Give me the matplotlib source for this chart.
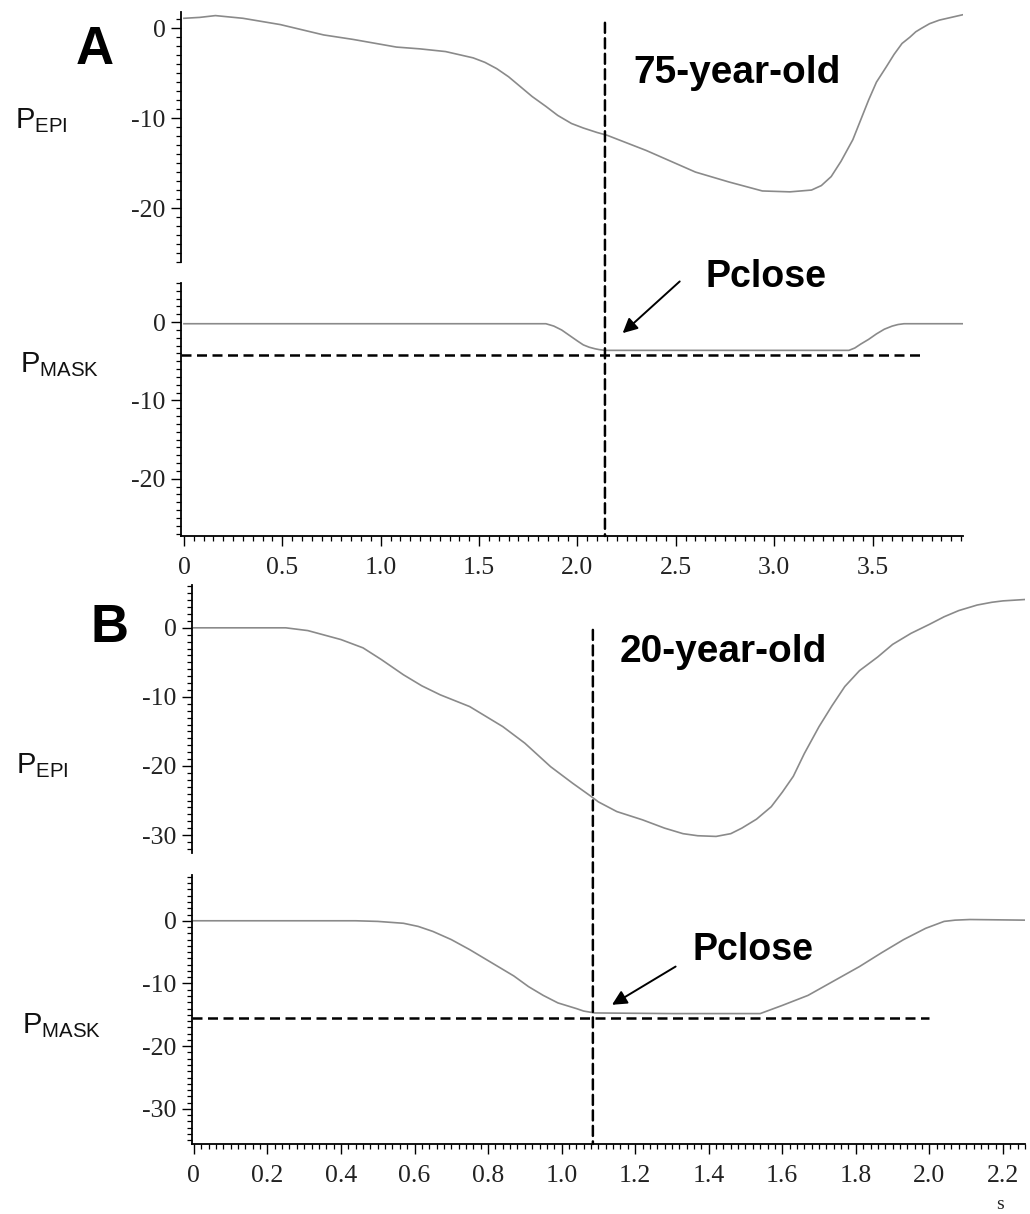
import matplotlib
matplotlib.use("Agg")
import matplotlib.pyplot as plt
from matplotlib.patches import ConnectionPatch
from matplotlib.ticker import MultipleLocator

W, H = 1030, 1214

# panel A (75-year-old), time in s
a_epi_t = [0, 0.08, 0.16, 0.30, 0.49, 0.71, 0.86, 1.08, 1.20, 1.33, 1.47, 1.53, 1.59, 1.65, 1.71,
           1.77, 1.84, 1.90, 1.97, 2.03, 2.10, 2.15, 2.35, 2.60, 2.77, 2.94, 3.08, 3.19, 3.24, 3.29,
           3.34, 3.40, 3.44, 3.48, 3.52, 3.57, 3.61, 3.65, 3.69, 3.72, 3.75, 3.79, 3.84, 3.88, 3.92,
           3.96]
a_epi = [1.1, 1.2, 1.4, 1.1, 0.4, -0.75, -1.25, -2.1, -2.3, -2.6, -3.3, -3.8, -4.5, -5.4, -6.5,
         -7.6, -8.7, -9.7, -10.6, -11.1, -11.6, -11.9, -13.6, -16.0, -17.1, -18.1, -18.2, -18.0,
         -17.5, -16.5, -14.8, -12.4, -10.2, -8.0, -6.0, -4.3, -2.9, -1.7, -1.0, -0.4, 0.0, 0.5,
         0.9, 1.1, 1.3, 1.5]
a_mask_t = [0, 1.84, 1.88, 1.92, 1.96, 2.00, 2.03, 2.06, 2.09, 2.11, 2.14, 3.38, 3.41, 3.44, 3.48,
            3.52, 3.56, 3.60, 3.63, 3.66, 3.96]
a_mask = [-0.2, -0.2, -0.5, -1.0, -1.7, -2.4, -2.9, -3.2, -3.4, -3.5, -3.6, -3.6, -3.3, -2.8,
          -2.2, -1.5, -0.9, -0.5, -0.3, -0.2, -0.2]
a_close_t = 2.14
a_close_p = -4.2
a_close_end = 3.76

# panel B (20-year-old)
b_epi_t = [0, 0.25, 0.31, 0.40, 0.46, 0.51, 0.57, 0.62, 0.67, 0.75, 0.84, 0.90, 0.97, 1.03, 1.08,
           1.10, 1.15, 1.22, 1.28, 1.33, 1.37, 1.42, 1.46, 1.49, 1.53, 1.57, 1.60, 1.63, 1.66,
           1.70, 1.735, 1.77, 1.81, 1.86, 1.90, 1.95, 2.00, 2.04, 2.08, 2.13, 2.17, 2.20, 2.26]
b_epi = [0, 0, -0.4, -1.7, -2.9, -4.6, -6.8, -8.4, -9.7, -11.4, -14.3, -16.7, -20.1, -22.5,
         -24.4, -25.2, -26.6, -27.8, -29.0, -29.8, -30.1, -30.2, -29.8, -29.0, -27.7, -25.9,
         -23.8, -21.5, -18.2, -14.3, -11.3, -8.5, -6.2, -4.2, -2.4, -0.8, 0.5, 1.6, 2.5, 3.3,
         3.7, 3.9, 4.1]
b_mask_t = [0, 0.44, 0.50, 0.57, 0.61, 0.65, 0.70, 0.75, 0.81, 0.87, 0.91, 0.95, 0.99, 1.04, 1.06,
            1.09, 1.30, 1.54, 1.60, 1.67, 1.74, 1.81, 1.87, 1.93, 1.99, 2.04, 2.07, 2.11, 2.26]
b_mask = [0, 0, -0.1, -0.4, -0.9, -1.7, -3.0, -4.6, -6.7, -8.8, -10.5, -11.9, -13.1, -14.0,
          -14.4, -14.7, -14.8, -14.8, -13.5, -11.9, -9.6, -7.3, -5.1, -3.0, -1.2, -0.1, 0.1,
          0.2, 0.1]
b_close_t = 1.085
b_close_p = -15.5
b_close_end = 2.0

a_xticks = [0, 0.5, 1.0, 1.5, 2.0, 2.5, 3.0, 3.5]
a_xticklabels = ["0", "0.5", "1.0", "1.5", "2.0", "2.5", "3.0", "3.5"]
b_xticks = [0, 0.2, 0.4, 0.6, 0.8, 1.0, 1.2, 1.4, 1.6, 1.8, 2.0, 2.2]
b_xticklabels = ["0", "0.2", "0.4", "0.6", "0.8", "1.0", "1.2", "1.4", "1.6", "1.8", "2.0", "2.2"]
yticks_a = [0, -10, -20]
yticks_b = [0, -10, -20, -30]

CURVE = "#8a8a8a"
TICKFONT = "Liberation Serif"
SANS = "Liberation Sans"
TICKSIZE = 18.5


def px_axes(fig, left, top, right, bottom):
    return fig.add_axes([left / W, 1 - bottom / H, (right - left) / W, (bottom - top) / H])


def style(ax, yticks, xlim, ylim, xminor, xticks=None, xlabels=None):
    ax.set_xlim(*xlim)
    ax.set_ylim(*ylim)
    for s in ("top", "right"):
        ax.spines[s].set_visible(False)
    ax.spines["left"].set_linewidth(1.3)
    ax.set_yticks(yticks)
    ax.set_yticklabels([str(v) for v in yticks], fontfamily=TICKFONT, fontsize=TICKSIZE,
                       color="#222222")
    ax.yaxis.set_minor_locator(MultipleLocator(1))
    ax.tick_params(axis="y", which="major", length=7, width=1.0, direction="out", pad=4)
    ax.tick_params(axis="y", which="minor", length=3.5, width=0.9, direction="out")
    if xticks is None:
        ax.spines["bottom"].set_visible(False)
        ax.tick_params(axis="x", which="both", bottom=False, labelbottom=False)
    else:
        ax.spines["bottom"].set_linewidth(1.3)
        ax.set_xticks(xticks)
        ax.set_xticklabels(xlabels, fontfamily=TICKFONT, fontsize=TICKSIZE, color="#222222")
        ax.xaxis.set_minor_locator(MultipleLocator(xminor))
        ax.tick_params(axis="x", which="major", length=7, width=1.0, direction="out", pad=8)
        ax.tick_params(axis="x", which="minor", length=3.5, width=0.9, direction="out")


fig = plt.figure(figsize=(W / 100, H / 100), dpi=100)

ax1 = px_axes(fig, 181, 12, 963, 262)
ax2 = px_axes(fig, 181, 283, 963, 536)
ax3 = px_axes(fig, 192, 585, 1025, 853)
ax4 = px_axes(fig, 192, 875, 1025, 1144)

a_xlim = (-0.015, 3.96)
b_xlim = (-0.005, 2.26)
style(ax1, yticks_a, a_xlim, (-26.0, 1.8), 0.05)
style(ax2, yticks_a, a_xlim, (-27.3, 5.0), 0.05, a_xticks, a_xticklabels)
style(ax3, yticks_b, b_xlim, (-32.6, 6.2), 0.02)
style(ax4, yticks_b, b_xlim, (-35.6, 7.3), 0.02, b_xticks, b_xticklabels)

ax1.plot(a_epi_t, a_epi, color=CURVE, lw=1.2)
ax2.plot(a_mask_t, a_mask, color=CURVE, lw=1.2)
ax3.plot(b_epi_t, b_epi, color=CURVE, lw=1.2)
ax4.plot(b_mask_t, b_mask, color=CURVE, lw=1.2)

dash = dict(color="black", lw=1.8, dashes=(4, 2.2))
ax2.plot([a_xlim[0], a_close_end], [a_close_p, a_close_p], **dash)
ax4.plot([b_xlim[0], b_close_end], [b_close_p, b_close_p], **dash)

for top_ax, bot_ax, t, y0 in ((ax1, ax2, a_close_t, 0.6), (ax3, ax4, b_close_t, -0.3)):
    con = ConnectionPatch(xyA=(t, y0), coordsA=top_ax.transData,
                          xyB=(t, bot_ax.get_ylim()[0]), coordsB=bot_ax.transData,
                          color="black", lw=1.8, linestyle=(0, (4, 2.2)))
    fig.add_artist(con)

bold = dict(fontfamily=SANS, fontweight="bold", color="black")
ax1.text(2.286, -6.1, "75-year-old", fontsize=28, ha="left", va="baseline", **bold)
ax3.text(1.158, -4.9, "20-year-old", fontsize=28, ha="left", va="baseline", **bold)
ax2.text(2.65, 4.46, "Pclose", fontsize=27, ha="left", va="baseline", clip_on=False, **bold)
ax4.text(1.355, -6.2, "Pclose", fontsize=27, ha="left", va="baseline", **bold)

arrow = dict(arrowstyle="-|>", color="black", lw=1.4, mutation_scale=22, shrinkA=0, shrinkB=0)
ax2.annotate("", xy=(2.23, -1.4), xytext=(2.52, 5.2), arrowprops=arrow, annotation_clip=False)
ax4.annotate("", xy=(1.137, -13.4), xytext=(1.31, -7.3), arrowprops=arrow)


def ftext(x, y, s, **kw):
    fig.text(x / W, 1 - y / H, s, **kw)


ftext(95, 50, "A", fontsize=38, ha="center", va="center", **bold)
ftext(110, 628, "B", fontsize=38, ha="center", va="center", **bold)

lab = dict(fontfamily=SANS, fontsize=21, ha="left", va="baseline", color="#111111")
ftext(15, 128, r"$\mathregular{P_{EPI}}$", **lab)
ftext(20, 372, r"$\mathregular{P_{MASK}}$", **lab)
ftext(16, 773, r"$\mathregular{P_{EPI}}$", **lab)
ftext(22, 1033, r"$\mathregular{P_{MASK}}$", **lab)

ftext(1000, 1209, "s", fontsize=14, fontfamily=TICKFONT, ha="center", va="baseline",
      color="#222222")

fig.savefig("out.png", dpi=100)
